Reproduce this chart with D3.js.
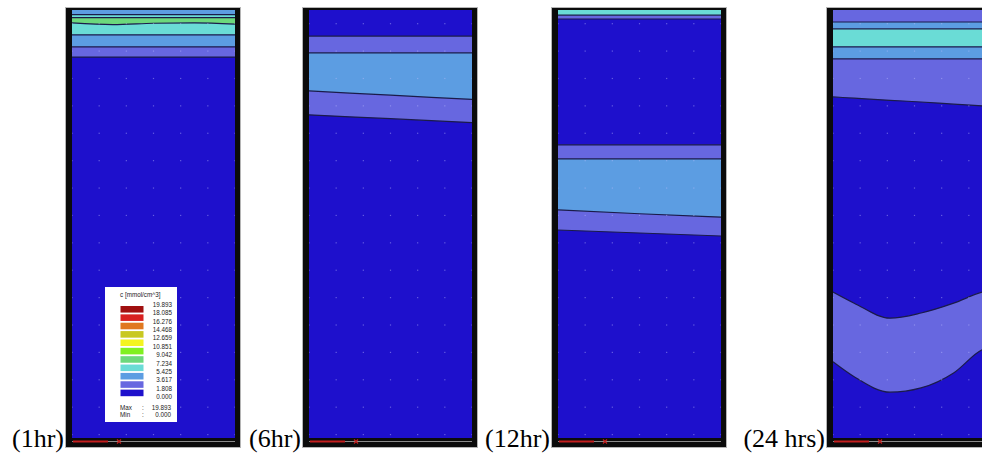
<!DOCTYPE html>
<html lang="en">
<head>
<meta charset="UTF-8">
<title>Concentration contours</title>
<script src="https://d3js.org/d3.v7.min.js"></script>
<style>
    body { margin: 0; background: #fff; }
    .label { font-family: "Liberation Serif", "Times New Roman", serif; font-size: 26px; fill: #000; }
    .legend text { font-family: "Liberation Sans", Arial, sans-serif; font-size: 6.3px; fill: #222; }
    .bound { fill: none; stroke: #1b1b4a; stroke-width: 1.2px; }
</style>
</head>
<body>
<script>
// contour levels of c [mmol/cm^3] and the fill colour of each interval
var levels = [0.000, 1.808, 3.617, 5.425, 7.234, 9.042, 10.851, 12.659, 14.468, 16.276, 18.085, 19.893];
var levelColors = ["#1e10cc", "#6767e0", "#5c9de2", "#6adcd6", "#6cd87c", "#80f020", "#f4f420", "#c8c820", "#e07820", "#d82020", "#a01010"];

var panelLabels = ["(1hr)", "(6hr)", "(12hr)", "(24 hrs)"];

// depth of each contour line (0 = top, 100 = bottom) sampled across the width
var xs1 = [0, 0.25, 0.5, 0.75, 1];
var bounds1 = [
    [1.1, 1.1, 1.1, 1.1, 1.1],
    [1.8, 1.8, 1.8, 1.8, 1.8],
    [3.0, 3.4, 3.1, 3.0, 3.3],
    [5.8, 5.8, 5.8, 5.8, 5.8],
    [8.6, 8.6, 8.6, 8.6, 8.6],
    [11.0, 11.0, 11.0, 11.0, 11.0]
];
var bands1 = [2, 3, 4, 3, 2, 1, 0];

var xs2 = [0, 0.5, 1];
var bounds2 = [
    [6.1, 6.1, 6.1],
    [10.0, 10.0, 10.0],
    [18.9, 19.9, 20.9],
    [24.5, 25.4, 26.3]
];
var bands2 = [0, 1, 2, 1, 0];

var xs3 = [0, 0.5, 1];
var bounds3 = [
    [1.2, 1.2, 1.2],
    [2.1, 2.1, 2.1],
    [31.5, 31.5, 31.5],
    [34.8, 34.8, 34.8],
    [46.7, 47.6, 48.4],
    [51.4, 52.1, 52.8]
];
var bands3 = [3, 1, 0, 1, 2, 1, 0];

var xs4 = [0, 0.13, 0.35, 0.54, 0.74, 0.915, 1];
var bounds4 = [
    [2.8, 2.8, 2.8, 2.8, 2.8, 2.8, 2.8],
    [4.4, 4.4, 4.4, 4.4, 4.4, 4.4, 4.4],
    [8.6, 8.6, 8.6, 8.6, 8.6, 8.6, 8.6],
    [11.4, 11.4, 11.4, 11.4, 11.4, 11.4, 11.4],
    [20.3, 20.6, 21.1, 21.5, 22.0, 22.4, 22.6],
    [65.9, 68.5, 72.0, 70.8, 68.5, 65.9, 65.2],
    [82.2, 85.7, 89.3, 88.3, 84.8, 79.4, 78.5]
];
var bands4 = [1, 2, 3, 2, 1, 0, 1, 0];

var panelXs = [xs1, xs2, xs3, xs4];
var panelBounds = [bounds1, bounds2, bounds3, bounds4];
var panelBands = [bands1, bands2, bands3, bands4];

var width = 982, height = 455;
var panelLeft = [65, 302, 551, 826];
var panelW = 176, frameTop = 7, frameBottom = 447;
var innerTop = 10, innerBottom = 438;

var svg = d3.select("body").append("svg")
    .attr("width", width)
    .attr("height", height);

var y = d3.scaleLinear().domain([0, 100]).range([innerTop, innerBottom]);

panelLeft.forEach(function(left, p) {
    var innerL = left + 7, innerR = left + panelW - 6;
    var x = d3.scaleLinear().domain([0, 1]).range([innerL, innerR]);
    var xs = panelXs[p];

    var g = svg.append("g");

    // black frame with thin grey edge
    g.append("rect")
        .attr("x", left + 0.5).attr("y", frameTop + 0.5)
        .attr("width", panelW - 1).attr("height", frameBottom - frameTop)
        .attr("fill", "#0b0b0b").attr("stroke", "#b5b5b5");

    var clipId = "clip" + p;
    svg.append("clipPath").attr("id", clipId)
        .append("rect")
        .attr("x", innerL).attr("y", innerTop)
        .attr("width", innerR - innerL).attr("height", innerBottom - innerTop);

    var inner = g.append("g").attr("clip-path", "url(#" + clipId + ")");

    // top band fills everything, each following band paints from its line down
    inner.append("rect")
        .attr("x", innerL).attr("y", innerTop)
        .attr("width", innerR - innerL).attr("height", innerBottom - innerTop)
        .attr("fill", levelColors[panelBands[p][0]]);

    var area = d3.area()
        .x(function(d, i) { return x(xs[i]); })
        .y0(y(100))
        .y1(function(d) { return y(d); })
        .curve(d3.curveMonotoneX);

    var line = d3.line()
        .x(function(d, i) { return x(xs[i]); })
        .y(function(d) { return y(d); })
        .curve(d3.curveMonotoneX);

    panelBounds[p].forEach(function(b, i) {
        inner.append("path")
            .attr("d", area(b))
            .attr("fill", levelColors[panelBands[p][i + 1]]);
    });

    panelBounds[p].forEach(function(b) {
        inner.append("path").attr("class", "bound").attr("d", line(b));
    });

    // faint mesh dots
    var dots = [];
    d3.range(0, 7).forEach(function(i) {
        d3.range(3.2, 100, 6.4).forEach(function(d) { dots.push([i / 6, d]); });
    });
    inner.selectAll(".dot").data(dots).enter().append("rect")
        .attr("x", function(d) { return x(d[0]) - 0.6; })
        .attr("y", function(d) { return y(d[1]) - 0.6; })
        .attr("width", 1.2).attr("height", 1.2)
        .attr("fill", "rgba(190,190,255,0.45)");

    // bottom axis triad
    g.append("line")
        .attr("x1", innerL).attr("x2", innerR)
        .attr("y1", 441.5).attr("y2", 441.5)
        .attr("stroke", "#8a8a8a").attr("stroke-width", 1);
    g.append("line")
        .attr("x1", innerL + 1).attr("x2", innerL + 36)
        .attr("y1", 441.5).attr("y2", 441.5)
        .attr("stroke", "#c41e1e").attr("stroke-width", 2);
    g.append("path")
        .attr("d", "M" + (innerL + 45) + ",439.5l4,4m0,-4l-4,4")
        .attr("stroke", "#c41e1e").attr("stroke-width", 1.2);

    svg.append("text")
        .attr("class", "label")
        .attr("x", left - 1)
        .attr("y", 447)
        .attr("text-anchor", "end")
        .text(panelLabels[p]);
});

// legend inside the first panel
var legend = svg.append("g").attr("class", "legend");
legend.append("rect")
    .attr("x", 105).attr("y", 287)
    .attr("width", 72).attr("height", 135)
    .attr("fill", "#fff");
legend.append("text").attr("x", 120).attr("y", 297).text("c [mmol/cm^3]");

var ly = d3.scaleLinear().domain([d3.max(levels), 0]).range([305, 397]);
var swatches = d3.range(levels.length - 1);
legend.selectAll(".sw").data(swatches).enter().append("rect")
    .attr("x", 120.5)
    .attr("y", function(i) { return ly(levels[i + 1]) + 1; })
    .attr("width", 23)
    .attr("height", function(i) { return ly(levels[i]) - ly(levels[i + 1]) - 1.8; })
    .attr("fill", function(i) { return levelColors[i]; });
legend.selectAll(".lv").data(levels).enter().append("text")
    .attr("x", 172)
    .attr("y", function(d) { return ly(d) + 2; })
    .attr("text-anchor", "end")
    .text(function(d) { return d.toFixed(3); });

var stats = [["Max", d3.max(levels)], ["Min", d3.min(levels)]];
stats.forEach(function(s, i) {
    var yy = 410 + i * 7;
    legend.append("text").attr("x", 120).attr("y", yy).text(s[0]);
    legend.append("text").attr("x", 142).attr("y", yy).text(":");
    legend.append("text").attr("x", 171).attr("y", yy).attr("text-anchor", "end").text(s[1].toFixed(3));
});
</script>
</body>
</html>
